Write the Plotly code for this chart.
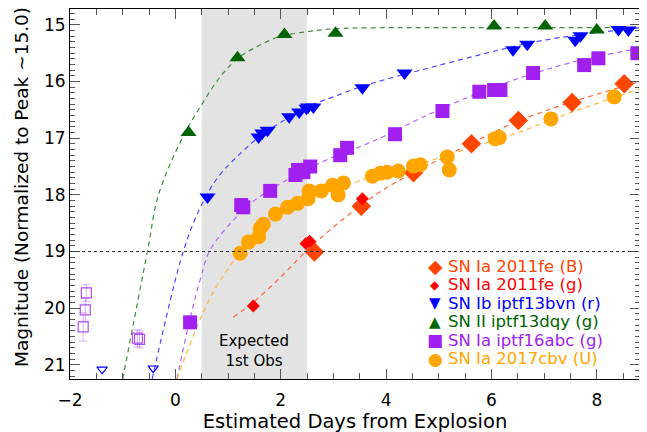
import plotly.graph_objects as go

# ---------------- data ----------------
# SN Ia 2011fe (B)
fe_b_x = [2.64, 3.53, 4.52, 5.62, 6.51, 7.53, 8.52]
fe_b_y = [19.01, 18.20, 17.61, 17.10, 16.69, 16.37, 16.04]
# SN Ia 2011fe (g)
fe_g_x = [1.48, 2.48, 2.55, 3.55]
fe_g_y = [19.96, 18.86, 18.82, 18.07]
# SN Ib iptf13bvn (r)
bvn_x = [0.61, 1.58, 1.65, 1.75, 2.16, 2.35, 2.49, 2.52, 2.62, 3.55, 4.35, 6.41, 6.68, 7.59, 7.69, 8.41, 8.60]
bvn_y = [18.04, 16.98, 16.91, 16.86, 16.62, 16.54, 16.47, 16.45, 16.45, 16.11, 15.85, 15.44, 15.34, 15.27, 15.19, 15.08, 15.09]
bvn_lim_x = [-1.39, -0.42]
bvn_lim_y = [21.08, 21.06]
# SN II iptf13dqy (g)
dqy_x = [0.25, 1.18, 2.07, 3.04, 6.05, 7.02, 8.00]
dqy_y = [16.90, 15.58, 15.17, 15.15, 15.02, 15.02, 15.09]
# SN Ia iptf16abc (g)
abc_x = [0.28, 1.25, 1.29, 1.80, 2.28, 2.33, 2.43, 2.56, 3.13, 3.26, 4.17, 5.07, 5.77, 6.05, 6.17, 6.79, 7.76, 8.03, 8.77]
abc_y = [20.25, 18.18, 18.22, 17.93, 17.65, 17.56, 17.60, 17.50, 17.30, 17.17, 16.93, 16.52, 16.18, 16.15, 16.15, 15.85, 15.71, 15.59, 15.50]
abc_pre_x = [-1.69, -1.71, -1.75, -0.72, -0.68]
abc_pre_y = [19.73, 20.03, 20.33, 20.53, 20.55]
abc_pre_err = [0.15, 0.2, 0.25, 0.15, 0.15]
# SN Ia 2017cbv (U)
cbv_x = [1.23, 1.39, 1.58, 1.61, 1.67, 1.90, 2.13, 2.32, 2.52, 2.54, 2.77, 2.98, 3.09, 3.19, 3.74, 3.89, 4.02, 4.23, 4.52, 4.65, 5.16, 5.20, 6.07, 6.15, 7.13, 8.33]
cbv_y = [19.03, 18.83, 18.74, 18.59, 18.52, 18.34, 18.22, 18.15, 18.07, 17.93, 17.93, 17.83, 18.00, 17.79, 17.67, 17.62, 17.60, 17.58, 17.49, 17.47, 17.33, 17.56, 17.01, 16.99, 16.66, 16.27]

# model curves (sampled from the dashed lines in the reference)
dqy_fit_x = [-1.0, -0.53, -0.32, 0.13, 0.47, 0.85, 1.2, 1.6, 2.0, 2.5, 3.0, 4.0, 6.0, 8.82]
dqy_fit_y = [21.25, 19.0, 18.0, 17.0, 16.45, 15.92, 15.58, 15.36, 15.2, 15.12, 15.07, 15.05, 15.05, 15.05]
bvn_fit_x = [-0.44, 0.15, 0.47, 0.8, 1.2, 1.6, 2.0, 2.5, 3.0, 3.5, 4.0, 4.65, 5.9, 7.0, 8.82]
bvn_fit_y = [21.25, 19.0, 18.23, 17.7, 17.3, 16.97, 16.72, 16.45, 16.27, 16.1, 15.96, 15.8, 15.5, 15.27, 15.05]
abc_fit_x = [0.03, 0.25, 0.47, 0.66, 1.1, 1.5, 2.0, 2.5, 3.0, 3.5, 4.0, 4.65, 5.5, 6.5, 7.5, 8.82]
abc_fit_y = [21.25, 20.3, 19.5, 18.97, 18.45, 18.1, 17.8, 17.55, 17.33, 17.15, 16.95, 16.65, 16.3, 15.95, 15.67, 15.41]
cbv_fit_x = [0.03, 0.25, 0.47, 0.7, 1.0, 1.3, 1.6, 2.0, 2.5, 3.0, 3.5, 4.0, 4.65, 5.5, 6.5, 7.5, 8.82]
cbv_fit_y = [21.25, 20.7, 20.2, 19.75, 19.3, 18.95, 18.65, 18.35, 18.1, 17.9, 17.75, 17.6, 17.45, 17.2, 16.9, 16.55, 16.13]
fe_fit_x = [1.1, 1.5, 2.0, 2.5, 3.0, 3.5, 4.0, 4.65, 5.6, 6.5, 7.5, 8.82]
fe_fit_y = [20.16, 19.88, 19.45, 18.98, 18.57, 18.2, 17.88, 17.55, 17.1, 16.7, 16.37, 16.0]

# legend entries
legend_labels = ["SN Ia 2011fe (B)", "SN Ia 2011fe (g)", "SN Ib iptf13bvn (r)",
                 "SN II iptf13dqy (g)", "SN Ia iptf16abc (g)", "SN Ia 2017cbv (U)"]
legend_glyphs = ["\u25C6", "\u25C6", "\u25BC", "\u25B2", "\u25A0", "\u25CF"]
legend_colors = ["#ff4500", "#ff0000", "#0000ff", "#006400", "#a020f0", "#ffa500"]
legend_glyph_sizes = [19, 12, 15, 15, 17, 17]

x_range = [-2.0, 8.82]
y_range = [21.25, 14.72]
shade_x = [0.5, 2.5]
threshold = 19.0

FONT = "DejaVu Sans"

fig = go.Figure()

def curve(x, y, color):
    fig.add_trace(go.Scatter(x=x, y=y, mode="lines", showlegend=False, hoverinfo="skip",
                             line=dict(color=color, width=1.2, dash="5px,4px", shape="spline")))

curve(dqy_fit_x, dqy_fit_y, "#3c8c3c")
curve(bvn_fit_x, bvn_fit_y, "#4a4aff")
curve(abc_fit_x, abc_fit_y, "#b464ff")
curve(cbv_fit_x, cbv_fit_y, "#ffb43c")
curve(fe_fit_x, fe_fit_y, "#ff6a40")

# pre-explosion / limits
fig.add_trace(go.Scatter(x=abc_pre_x, y=abc_pre_y, mode="markers", showlegend=False,
                         error_y=dict(type="data", array=abc_pre_err, color="rgba(180,100,255,0.5)", thickness=1, width=4),
                         marker=dict(symbol="square-open", size=10, color="#b050f0", line=dict(width=1.2))))
fig.add_trace(go.Scatter(x=bvn_lim_x, y=bvn_lim_y, mode="markers", showlegend=False,
                         marker=dict(symbol="triangle-down-open", size=9, color="#0000ff", line=dict(width=1.2))))

fig.add_trace(go.Scatter(x=fe_b_x, y=fe_b_y, mode="markers", name=legend_labels[0],
                         marker=dict(symbol="diamond", size=15, color=legend_colors[0])))
fig.add_trace(go.Scatter(x=fe_g_x, y=fe_g_y, mode="markers", name=legend_labels[1],
                         marker=dict(symbol="diamond", size=10, color=legend_colors[1])))
fig.add_trace(go.Scatter(x=bvn_x, y=bvn_y, mode="markers", name=legend_labels[2],
                         marker=dict(symbol="triangle-down", size=14, color=legend_colors[2])))
fig.add_trace(go.Scatter(x=dqy_x, y=dqy_y, mode="markers", name=legend_labels[3],
                         marker=dict(symbol="triangle-up", size=14, color=legend_colors[3])))
fig.add_trace(go.Scatter(x=abc_x, y=abc_y, mode="markers", name=legend_labels[4],
                         marker=dict(symbol="square", size=14, color=legend_colors[4])))
fig.add_trace(go.Scatter(x=cbv_x, y=cbv_y, mode="markers", name=legend_labels[5],
                         marker=dict(symbol="circle", size=15, color=legend_colors[5])))

fig.add_shape(type="rect", xref="x", yref="paper", x0=shade_x[0], x1=shade_x[1], y0=0, y1=1,
              fillcolor="#e3e3e3", line=dict(width=0), layer="below")
fig.add_shape(type="line", xref="paper", yref="y", x0=0, x1=1, y0=threshold, y1=threshold,
              line=dict(color="#333333", width=1.2, dash="dot"), layer="above")
fig.add_annotation(x=sum(shade_x) / 2, y=20.76, text="Expected<br>1st Obs", showarrow=False,
                   font=dict(family=FONT, size=15, color="black"))

# y-axis title as a rotated annotation (plot area on screen: 70..640 px wide, 9..379 px tall)
fig.add_annotation(xref="paper", yref="paper", x=(21 - 70) / 570, y=(379 - 187) / 370,
                   text="Magnitude (Normalized to Peak ~15.0)", textangle=-90, showarrow=False,
                   xanchor="center", yanchor="middle", font=dict(family=FONT, size=18.5, color="black"))

# legend drawn as text rows
row_top_px = 266
row_step_px = 18.5
for i, (lab, gl, col, gs) in enumerate(zip(legend_labels, legend_glyphs, legend_colors, legend_glyph_sizes)):
    py = row_top_px + i * row_step_px
    yp = (379 - py) / 370
    fig.add_annotation(xref="paper", yref="paper", x=(435 - 70) / 570, y=yp, text=gl, showarrow=False,
                       xanchor="center", yanchor="middle", font=dict(family=FONT, size=gs, color=col))
    fig.add_annotation(xref="paper", yref="paper", x=(446 - 70) / 570, y=yp, text=lab, showarrow=False,
                       xanchor="left", yanchor="middle", font=dict(family=FONT, size=16.5, color=col))

axis_common = dict(showline=True, linecolor="black", linewidth=1, mirror="ticks", ticks="inside",
                   tickcolor="#555555", showgrid=False, zeroline=False, automargin=False,
                   tickfont=dict(family=FONT, size=17, color="black"))

fig.update_layout(
    width=647, height=432,
    # page body adds an 8px offset, so margins are set to land the plot area at 70..640 x 9..379
    margin=dict(l=62, r=15, t=1, b=61),
    paper_bgcolor="white", plot_bgcolor="white",
    font=dict(family=FONT, color="black"),
    showlegend=False,
    xaxis=dict(range=x_range, dtick=2, ticklen=10, ticklabelstandoff=6,
               minor=dict(dtick=0.5, ticks="inside", ticklen=6, tickcolor="#555555"),
               title=dict(text="Estimated Days from Explosion", font=dict(family=FONT, size=19.5), standoff=1),
               **axis_common),
    yaxis=dict(range=y_range, dtick=1, ticklen=10,
               minor=dict(dtick=0.1, ticks="inside", ticklen=5, tickcolor="#555555"),
               **axis_common),
)

fig.write_html("out.html")
